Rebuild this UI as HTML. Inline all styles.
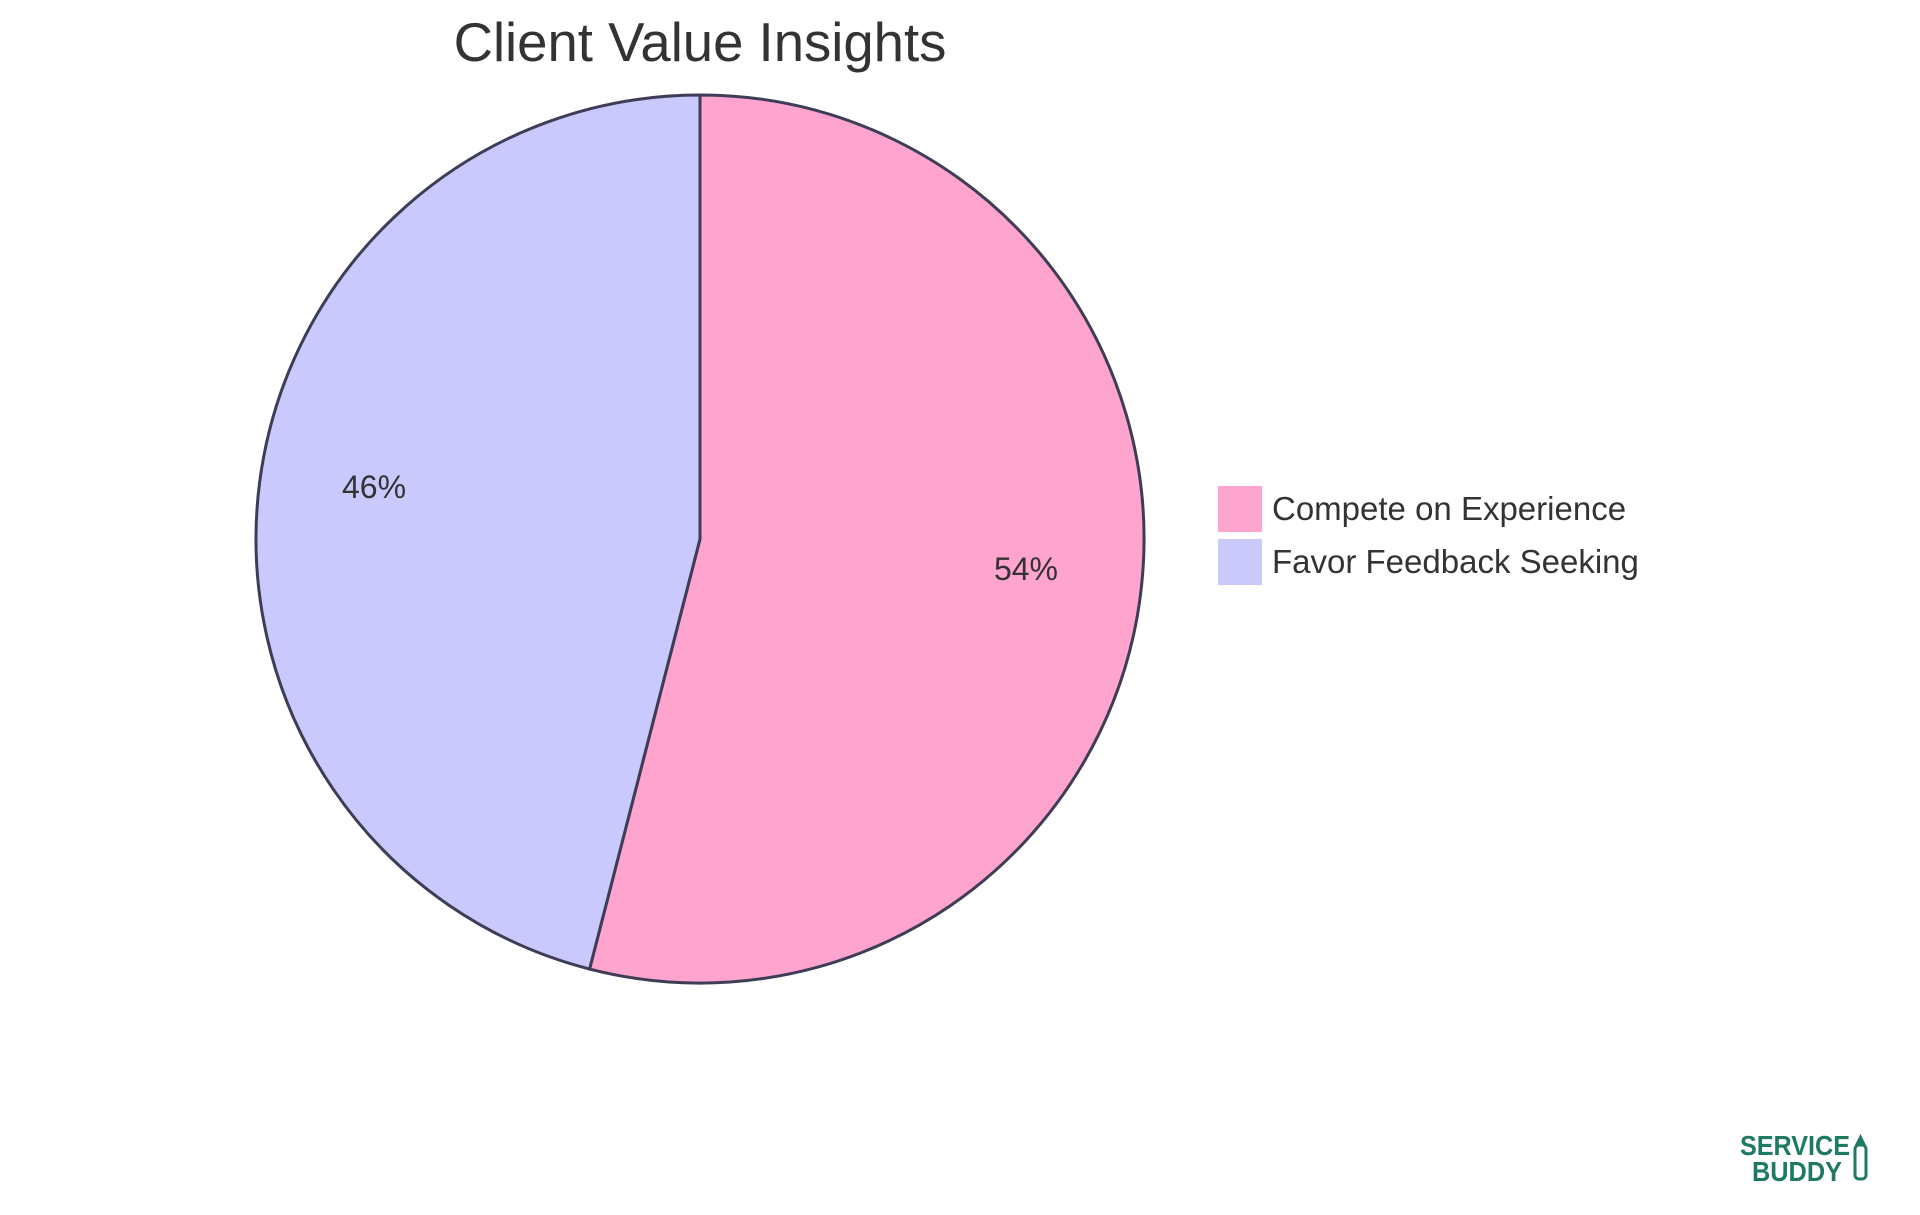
<!DOCTYPE html>
<html><head><meta charset="utf-8"><style>
html,body{margin:0;padding:0;background:#fff;}
svg{display:block;font-family:"Liberation Sans",sans-serif;}
</style></head><body>
<svg id="chart" width="1920" height="1215" viewBox="0 0 1920 1215">
<text x="700" y="61" text-anchor="middle" font-size="54.5" fill="#333">Client Value Insights</text>
<g id="slices"></g>
<g id="legend"></g>
<g>
<text x="1740" y="1155" font-size="28" font-weight="bold" fill="#1f7a64" textLength="110" lengthAdjust="spacingAndGlyphs">SERVICE</text>
<text x="1752" y="1181" font-size="28" font-weight="bold" fill="#1f7a64" textLength="90" lengthAdjust="spacingAndGlyphs">BUDDY</text>
<rect x="1855" y="1145" width="11" height="34" rx="4" fill="none" stroke="#1f7a64" stroke-width="3"/>
<polygon points="1855,1145 1860.5,1134 1866,1145" fill="#1f7a64"/>
</g>
</svg>
<script>
const labels=["Compete on Experience","Favor Feedback Seeking"];
const values=[54,46];
const colors=["#ffa3cf","#c9c9fd"];
const cx=700,cy=539,r=444;
const ns="http://www.w3.org/2000/svg";
const sg=document.getElementById('slices'),lg=document.getElementById('legend');
const total=values.reduce((a,b)=>a+b,0);
let a0=-Math.PI/2;
const pt=(a,rr)=>[cx+rr*Math.cos(a),cy+rr*Math.sin(a)];
values.forEach((v,i)=>{
  const a1=a0+v/total*2*Math.PI;
  const p0=pt(a0,r),p1=pt(a1,r);
  const path=document.createElementNS(ns,'path');
  path.setAttribute('d',`M${cx},${cy} L${p0[0]},${p0[1]} A${r},${r} 0 ${a1-a0>Math.PI?1:0} 1 ${p1[0]},${p1[1]} Z`);
  path.setAttribute('fill',colors[i]);path.setAttribute('stroke','#3d3d56');path.setAttribute('stroke-width','3');
  
  
  sg.appendChild(path);
  const am=(a0+a1)/2,lp=pt(am,r*0.74);
  const t=document.createElementNS(ns,'text');
  t.setAttribute('x',lp[0]);t.setAttribute('y',lp[1]);t.setAttribute('text-anchor','middle');
  t.setAttribute('font-size','32');t.setAttribute('fill','#333');
  t.textContent=Math.round(v/total*100)+'%';
  
  
  sg.appendChild(t);
  const rc=document.createElementNS(ns,'rect');
  rc.setAttribute('x',1218);rc.setAttribute('y',486+i*53);rc.setAttribute('width',44);rc.setAttribute('height',46);
  rc.setAttribute('fill',colors[i]);
  
  
  lg.appendChild(rc);
  const lt=document.createElementNS(ns,'text');
  lt.setAttribute('x',1272);lt.setAttribute('y',520+i*53);lt.setAttribute('font-size','33');lt.setAttribute('fill','#333');
  lt.textContent=labels[i];
  
  
  lg.appendChild(lt);
  a0=a1;
});
</script>
</body></html>
